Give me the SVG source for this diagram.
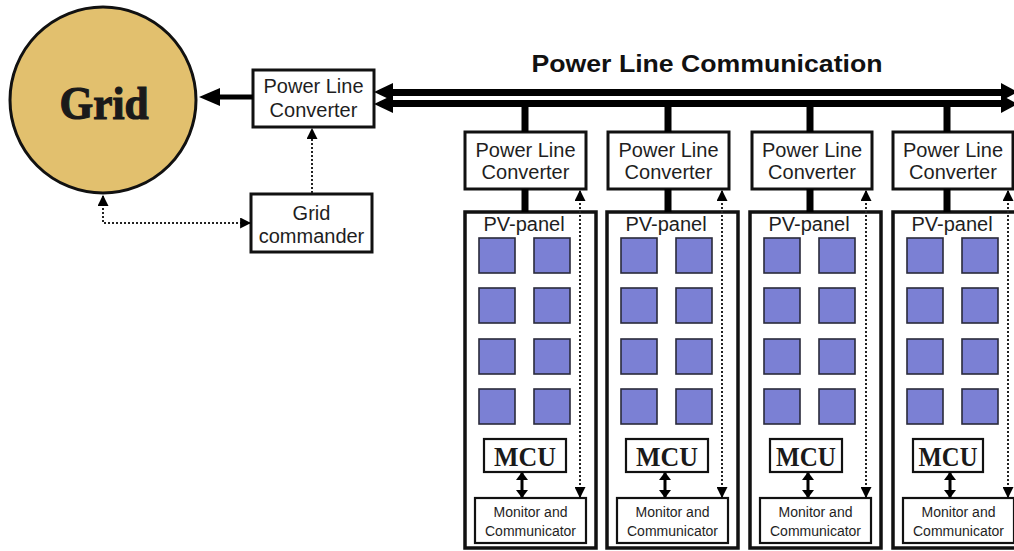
<svg xmlns="http://www.w3.org/2000/svg" width="1014" height="551" viewBox="0 0 1014 551">
<defs>
<style>
.box{fill:#fff;stroke:#111;stroke-width:3}
.pv{fill:#fff;stroke:#111;stroke-width:3.5}
.thin{fill:#fff;stroke:#111;stroke-width:2.2}
.sq{fill:#7b80d4;stroke:#2a2a3a;stroke-width:1.6}
.t{font-family:"Liberation Sans",Arial,sans-serif;fill:#1e1e1e;text-anchor:middle}
.s{font-family:"Liberation Serif","Times New Roman",serif;font-weight:bold;fill:#1a1a1a;text-anchor:middle}
.dot{fill:none;stroke:#222;stroke-width:2;stroke-dasharray:2 2}
.bus{fill:none;stroke:#000;stroke-width:7}
.head{fill:#000}
</style>
<marker id="ah" viewBox="0 0 10 10" refX="9" refY="5" markerWidth="11" markerHeight="11" markerUnits="userSpaceOnUse" orient="auto">
<path d="M0,0 L10,5 L0,10 z" fill="#000"/>
</marker>
<marker id="ah2" viewBox="0 0 10 10" refX="9" refY="5" markerWidth="11" markerHeight="11" markerUnits="userSpaceOnUse" orient="auto-start-reverse">
<path d="M0,0 L10,5 L0,10 z" fill="#000"/>
</marker>
<marker id="ah3" viewBox="0 0 8 12" refX="7" refY="6" markerWidth="8" markerHeight="12" markerUnits="userSpaceOnUse" orient="auto-start-reverse" preserveAspectRatio="none">
<path d="M0,0 L8,6 L0,12 z" fill="#000"/>
</marker>
<g id="pvbase">
<rect class="pv" x="0" y="0" width="131" height="336"/>
<text class="t" x="59" y="19" font-size="20">PV-panel</text>
<rect class="sq" x="14" y="26" width="36" height="35"/>
<rect class="sq" x="69" y="26" width="36" height="35"/>
<rect class="sq" x="14" y="76" width="36" height="35"/>
<rect class="sq" x="69" y="76" width="36" height="35"/>
<rect class="sq" x="14" y="127" width="36" height="35"/>
<rect class="sq" x="69" y="127" width="36" height="35"/>
<rect class="sq" x="14" y="177" width="36" height="35"/>
<rect class="sq" x="69" y="177" width="36" height="35"/>
<rect class="thin" x="10" y="286" width="111" height="45"/>
<text class="t" x="65.5" y="305" font-size="14">Monitor and</text>
<text class="t" x="65.5" y="324" font-size="14">Communicator</text>
</g>
</defs>
<rect width="1014" height="551" fill="#fff"/>

<g id="grid">
<circle cx="103" cy="100" r="93" fill="#e2c06e" stroke="#111" stroke-width="3"/>
<text class="s" x="104" y="119" font-size="47" stroke="#1a1a1a" stroke-width="1.2" textLength="89" lengthAdjust="spacingAndGlyphs">Grid</text>
</g>

<g id="plc-main">
<rect class="box" x="253" y="70" width="121" height="57"/>
<text class="t" x="313.5" y="93" font-size="20">Power Line</text>
<text class="t" x="313.5" y="117" font-size="20">Converter</text>
</g>

<g id="grid-commander">
<rect class="box" x="251" y="194" width="121" height="58"/>
<text class="t" x="311.5" y="220" font-size="20">Grid</text>
<text class="t" x="311.5" y="243" font-size="20">commander</text>
</g>

<g id="title">
<text x="707" y="72" font-family="'Liberation Sans',Arial,sans-serif" font-weight="bold" font-size="23" fill="#111" text-anchor="middle" textLength="351" lengthAdjust="spacingAndGlyphs">Power Line Communication</text>
</g>

<g id="col1" transform="translate(465,0)">
<rect class="box" x="0" y="132" width="121" height="57"/>
<text class="t" x="60.5" y="157" font-size="20">Power Line</text>
<text class="t" x="60.5" y="179" font-size="20">Converter</text>
<use href="#pvbase" y="212"/>
<rect class="thin" x="19" y="439" width="82" height="33"/>
<text class="s" x="60" y="466" font-size="27" textLength="62" lengthAdjust="spacingAndGlyphs">MCU</text>
</g>
<g id="col2" transform="translate(607,0)">
<rect class="box" x="1" y="132" width="121" height="57"/>
<text class="t" x="61.5" y="157" font-size="20">Power Line</text>
<text class="t" x="61.5" y="179" font-size="20">Converter</text>
<use href="#pvbase" y="212"/>
<rect class="thin" x="19" y="439" width="82" height="33"/>
<text class="s" x="60" y="466" font-size="27" textLength="62" lengthAdjust="spacingAndGlyphs">MCU</text>
</g>
<g id="col3" transform="translate(750,0)">
<rect class="box" x="2" y="132" width="120" height="57"/>
<text class="t" x="62" y="157" font-size="20">Power Line</text>
<text class="t" x="62" y="179" font-size="20">Converter</text>
<use href="#pvbase" y="212"/>
<rect class="thin" x="20" y="439" width="72" height="33"/>
<text class="s" x="56" y="466" font-size="27" textLength="60" lengthAdjust="spacingAndGlyphs">MCU</text>
</g>
<g id="col4" transform="translate(893,0)">
<rect class="box" x="0" y="132" width="120" height="57"/>
<text class="t" x="60" y="157" font-size="20">Power Line</text>
<text class="t" x="60" y="179" font-size="20">Converter</text>
<use href="#pvbase" y="212"/>
<rect class="thin" x="20" y="439" width="70" height="33"/>
<text class="s" x="55" y="466" font-size="27" textLength="59" lengthAdjust="spacingAndGlyphs">MCU</text>
</g>

<g id="connectors">
<line class="bus" x1="390" y1="92.5" x2="1004" y2="92.5"/>
<line class="bus" x1="390" y1="103.5" x2="1004" y2="103.5"/>
<polygon class="head" points="374,92 393,83 393,101"/>
<polygon class="head" points="374,104 393,95 393,113"/>
<polygon class="head" points="1018,92 1001,83 1001,101"/>
<polygon class="head" points="1018,104 1001,95 1001,113"/>
<line x1="253" y1="97" x2="215" y2="97" stroke="#000" stroke-width="5"/>
<polygon class="head" points="199,97 220,88 220,106"/>
<g stroke="#000" stroke-width="7">
<line x1="525" y1="106" x2="525" y2="132"/>
<line x1="668" y1="106" x2="668" y2="132"/>
<line x1="810" y1="106" x2="810" y2="132"/>
<line x1="947" y1="106" x2="947" y2="132"/>
<line x1="525" y1="189" x2="525" y2="212"/>
<line x1="668" y1="189" x2="668" y2="212"/>
<line x1="810" y1="189" x2="810" y2="212"/>
<line x1="947" y1="189" x2="947" y2="212"/>
</g>
<line class="dot" x1="312" y1="193" x2="312" y2="129" marker-end="url(#ah)"/>
<polyline class="dot" points="103,196 103,223 250,223" marker-start="url(#ah2)" marker-end="url(#ah)"/>
<line class="dot" x1="580" y1="191" x2="580" y2="497" marker-start="url(#ah2)" marker-end="url(#ah2)"/>
<line class="dot" x1="722" y1="191" x2="722" y2="497" marker-start="url(#ah2)" marker-end="url(#ah2)"/>
<line class="dot" x1="866" y1="191" x2="866" y2="497" marker-start="url(#ah2)" marker-end="url(#ah2)"/>
<line class="dot" x1="1008" y1="191" x2="1008" y2="497" marker-start="url(#ah2)" marker-end="url(#ah2)"/>
<g stroke="#000" stroke-width="3">
<line x1="522" y1="473" x2="522" y2="497" marker-start="url(#ah3)" marker-end="url(#ah3)"/>
<line x1="665" y1="473" x2="665" y2="497" marker-start="url(#ah3)" marker-end="url(#ah3)"/>
<line x1="808" y1="473" x2="808" y2="497" marker-start="url(#ah3)" marker-end="url(#ah3)"/>
<line x1="950" y1="473" x2="950" y2="497" marker-start="url(#ah3)" marker-end="url(#ah3)"/>
</g>
</g>
</svg>
